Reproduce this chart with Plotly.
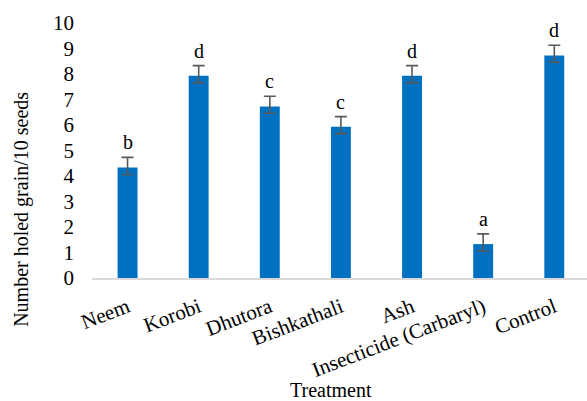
import plotly.graph_objects as go

treatments = ["Neem", "Korobi", "Dhutora", "Bishkathali", "Ash",
              "Insecticide (Carbaryl)", "Control"]
holed_grain = [4.33, 7.93, 6.73, 5.93, 7.93, 1.33, 8.73]
err_plus = [0.4, 0.4, 0.4, 0.4, 0.4, 0.4, 0.4]
err_minus = [0.27, 0.27, 0.27, 0.27, 0.27, 0.27, 0.27]
groups = ["b", "d", "c", "c", "d", "a", "d"]
y_ticks = list(range(0, 11))

FONT = "Liberation Serif, Times New Roman, serif"

fig = go.Figure()
fig.add_trace(go.Bar(
    x=treatments,
    y=holed_grain,
    width=0.28,
    marker=dict(color="#0070C0", line=dict(width=0)),
    error_y=dict(type="data", array=err_plus, arrayminus=err_minus,
                 symmetric=False, color="#595959", thickness=1.6, width=6),
    showlegend=False,
))

# significance letters above the error bars
for t, v, ep, g in zip(treatments, holed_grain, err_plus, groups):
    fig.add_annotation(x=t, y=v + ep, text=g, showarrow=False,
                       yanchor="bottom", yshift=2,
                       font=dict(family=FONT, size=20, color="black"))

# axis titles
fig.add_annotation(xref="paper", yref="paper", x=0.483, y=-0.44,
                   text="Treatment", showarrow=False,
                   xanchor="center", yanchor="middle",
                   font=dict(family=FONT, size=20, color="black"))
fig.add_annotation(xref="paper", yref="paper", x=-0.144, y=0.27,
                   text="Number holed grain/10 seeds", showarrow=False,
                   textangle=-90, xanchor="center", yanchor="middle",
                   font=dict(family=FONT, size=20, color="black"))

fig.update_layout(
    width=587, height=401,
    margin=dict(l=91.5, r=0, t=22.5, b=122.5),
    plot_bgcolor="white", paper_bgcolor="white",
    font=dict(family=FONT, size=20, color="black"),
    bargap=0.72,
)
fig.update_xaxes(
    range=[-0.5, 6.46],
    tickangle=-21,
    showline=True, linecolor="#D9D9D9", linewidth=2,
    showgrid=False, ticks="",
    ticklabelstandoff=7,
    tickfont=dict(family=FONT, size=21, color="black"),
)
fig.update_yaxes(
    range=[0, 10],
    tickvals=y_ticks,
    showline=False, showgrid=False, zeroline=False, ticks="",
    ticklabelstandoff=17,
    tickfont=dict(family=FONT, size=21, color="black"),
)

fig.write_html("out.html")
